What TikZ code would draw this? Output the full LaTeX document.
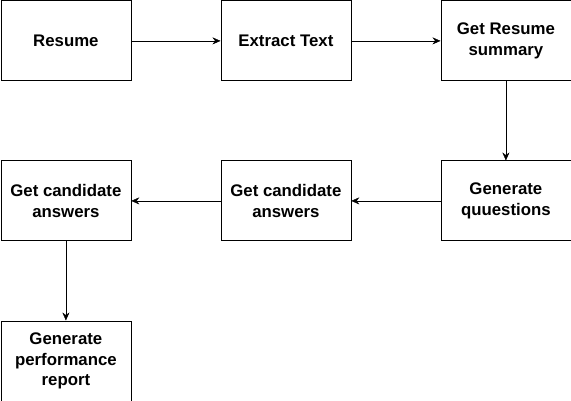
\documentclass[tikz,border=0pt]{standalone}
\usepackage{fontspec}
\setmainfont{Liberation Sans}
\usetikzlibrary{positioning,arrows.meta}

\begin{document}
\begin{tikzpicture}[x=1pt,y=-1pt,
    stepbox/.style={draw, thick, minimum width=130pt, minimum height=80pt, align=center,
        inner sep=0pt, font=\fontsize{16.8}{20.6}\selectfont\bfseries, anchor=north west},
    flow/.style={-{Stealth[length=8pt,width=7pt]}}]
        \useasboundingbox (0,0) rectangle (571,401);
        \node[stepbox] (resume) at (0.5,0.5) {Resume};
        \node[stepbox] (extract) at (220.5,0.5) {Extract Text};
        \node[stepbox] (summary) at (440.5,0.5) {Get Resume\\summary};
        \node[stepbox] (questions) at (440.5,160.5) {Generate\\quuestions};
        \node[stepbox] (answers) at (220.5,160.5) {Get candidate\\answers};
        \node[stepbox] (answers2) at (0.5,160.5) {Get candidate\\answers};
        \node[stepbox] (report) at (0.5,320.5) {Generate\\performance\\report};
        \draw[flow] (resume) -- (extract);
        \draw[flow] (extract) -- (summary);
        \draw[flow] (summary) -- (questions);
        \draw[flow] (questions) -- (answers);
        \draw[flow] (answers) -- (answers2);
        \draw[flow] (answers2) -- (report);
    \end{tikzpicture}
\end{document}
